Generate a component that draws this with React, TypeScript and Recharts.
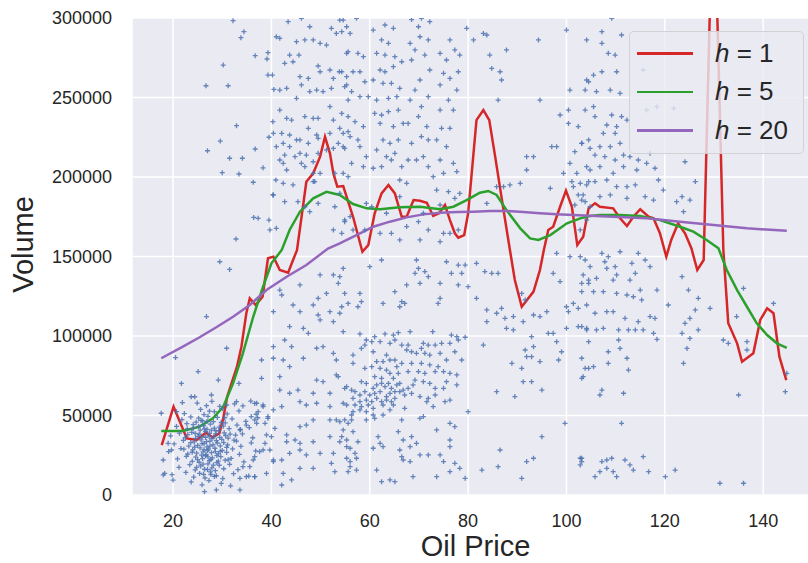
import { CartesianGrid, ComposedChart, Legend, Line, Scatter, XAxis, YAxis } from 'recharts'

const xTicks = [20, 40, 60, 80, 100, 120, 140]
const yTicks = [0, 50000, 100000, 150000, 200000, 250000, 300000]

// kernel regression curves
const redX = [17.7, 20.1, 22.8, 24.8, 26.7, 28.0, 29.4, 30.2, 31.0, 32.1, 33.0, 33.9, 34.9, 35.6, 36.8, 38.2, 39.3, 40.4, 41.7, 43.4, 44.4, 45.2, 47.1, 48.5, 49.9, 50.9, 51.9, 52.6, 53.4, 54.6, 56.6, 58.5, 59.7, 61.0, 62.4, 63.8, 65.1, 66.5, 67.5, 68.9, 70.2, 71.6, 72.9, 74.1, 75.3, 76.3, 77.3, 78.0, 79.2, 80.0, 81.7, 83.1, 84.3, 85.5, 87.2, 88.5, 89.5, 90.9, 93.3, 94.6, 95.4, 96.3, 97.3, 98.7, 99.9, 101.1, 102.2, 103.4, 104.5, 105.8, 106.8, 109.5, 110.9, 112.3, 113.6, 115.0, 116.7, 117.7, 119.0, 120.3, 121.3, 122.7, 124.1, 125.4, 126.6, 127.9, 129.2, 129.9, 130.6, 131.9, 132.9, 134.7, 135.7, 138.0, 139.4, 140.8, 142.1, 143.3, 144.7]
const redY = [31400, 55500, 35600, 34600, 39200, 36300, 38800, 48200, 61800, 72300, 80700, 93300, 114300, 123700, 119500, 124700, 148900, 149900, 141500, 139800, 147800, 154000, 197000, 202300, 212800, 225300, 214900, 202300, 193900, 194300, 175000, 153000, 157200, 177200, 189700, 195000, 189700, 175000, 175000, 185500, 185100, 183800, 175500, 177200, 182400, 172900, 164600, 161800, 163500, 177200, 235800, 242100, 235800, 212800, 179200, 154100, 135200, 118400, 127900, 141500, 154100, 166700, 168700, 181300, 191400, 181300, 157200, 162400, 180300, 183500, 181300, 180300, 174000, 169200, 175000, 179700, 175000, 174000, 164600, 149900, 160400, 170900, 164600, 155200, 141500, 147800, 310000, 330000, 310000, 154100, 108000, 95400, 83800, 89100, 110100, 117400, 114300, 87000, 72300]

const greenX = [17.6, 22.0, 25.4, 28.1, 30.2, 32.2, 34.2, 36.3, 38.3, 40.0, 42.1, 43.7, 45.8, 48.5, 51.2, 53.9, 56.6, 59.4, 62.1, 66.1, 70.2, 74.3, 77.0, 79.7, 82.4, 84.1, 85.8, 87.8, 90.6, 92.6, 94.3, 96.7, 100.1, 102.8, 104.8, 106.8, 110.9, 115.0, 119.0, 123.1, 125.8, 128.5, 130.9, 132.6, 134.7, 136.7, 138.7, 140.8, 142.8, 144.8]
const greenY = [40200, 40200, 43000, 48200, 55500, 70200, 89100, 112100, 131000, 145700, 154100, 166700, 178200, 186600, 190700, 188700, 183000, 180300, 179700, 180900, 181300, 179700, 181300, 185500, 190100, 191200, 188700, 179200, 167700, 161400, 160400, 163500, 170900, 174000, 175500, 176100, 176100, 175500, 172900, 168700, 165600, 160400, 155200, 141500, 128900, 118400, 108000, 100600, 95400, 92600]

const purpleX = [17.6, 22.0, 25.4, 28.8, 32.2, 35.6, 39.0, 43.1, 47.1, 51.5, 53.9, 57.3, 60.7, 64.1, 67.5, 70.9, 74.3, 77.7, 81.1, 84.5, 87.9, 91.2, 94.6, 98.0, 101.4, 104.8, 109.5, 116.3, 123.1, 129.9, 136.7, 144.8]
const purpleY = [86000, 93300, 99200, 105500, 112100, 119500, 128900, 137300, 144600, 155000, 158300, 163500, 168700, 171900, 174600, 176500, 177500, 178000, 178200, 178600, 178600, 178000, 177200, 176500, 176100, 175700, 175000, 174000, 171900, 169800, 167700, 166200]

// scatter of the raw observations (oil price, volume), grouped by area of the plot
const lowPriceCluster: [number, number][] = [
  [24.9, 57800], [26.8, 56200], [27.9, 58900], [29.5, 55700], [32.5, 57300], [34.2, 56000], [35.8, 59100],
  [22.3, 51200], [25.6, 53800], [26.3, 50600], [28.4, 52400], [30.1, 54300], [31.0, 51000], [33.4, 52900], [36.9, 50800],
  [21.8, 47400], [23.6, 49100], [24.7, 45800], [25.2, 48300], [26.0, 46600], [27.1, 49500], [28.2, 46100], [29.0, 48800], [30.6, 45400], [32.0, 47900], [34.8, 46300], [37.2, 48600],
  [20.7, 43100], [22.9, 41600], [24.1, 44200], [25.5, 40800], [26.2, 43700], [26.9, 41300], [27.6, 44600], [28.4, 42000], [29.3, 40500], [30.2, 43300], [31.4, 41800], [33.0, 44000], [35.5, 42400],
  [19.5, 37200], [21.3, 38900], [22.5, 36100], [23.8, 39400], [24.6, 35600], [25.3, 38200], [25.9, 36700], [26.6, 39800], [27.3, 37000], [27.9, 35400], [28.7, 38600], [29.5, 36300], [30.4, 39100], [31.2, 35800], [32.7, 37700], [34.1, 38400], [36.2, 36000],
  [20.2, 32100], [22.1, 34300], [23.2, 30800], [24.3, 33400], [25.0, 31200], [25.7, 34700], [26.3, 32400], [26.9, 30300], [27.5, 33900], [28.1, 31600], [28.8, 34200], [29.6, 30900], [30.3, 33000], [31.1, 31500], [32.4, 34500], [33.8, 30600], [35.9, 32800],
  [19.1, 27300], [21.6, 29200], [23.0, 25800], [24.0, 28400], [24.8, 26300], [25.5, 29600], [26.1, 27100], [26.7, 25400], [27.2, 28800], [27.8, 26600], [28.5, 29400], [29.2, 25900], [30.0, 28000], [30.9, 26800], [32.1, 29000], [33.5, 25600], [36.8, 27700],
  [20.9, 22700], [22.7, 24300], [23.9, 21200], [24.6, 23800], [25.3, 20600], [26.0, 22900], [26.6, 24700], [27.4, 21600], [28.0, 23300], [28.9, 20400], [29.7, 24100], [30.6, 21900], [31.8, 23000], [34.4, 20800],
  [21.2, 17400], [23.4, 19100], [24.5, 15800], [25.6, 18300], [26.4, 16200], [27.1, 19600], [27.9, 17000], [28.6, 15300], [29.4, 18700], [30.3, 16500], [31.5, 19300], [33.2, 15900],
  [19.8, 12800], [22.6, 14200], [24.2, 11300], [25.4, 13600], [26.5, 10700], [27.6, 14600], [28.8, 12100], [30.1, 10300], [32.3, 13400], [35.4, 11900],
  [23.7, 8200], [25.9, 6400], [27.3, 9100], [29.8, 7300], [31.7, 5800],
  [24.4, 30100], [25.1, 36900], [25.8, 25100], [26.4, 41500], [26.8, 33600], [27.0, 27900], [27.4, 38800], [27.7, 22400], [28.3, 36600], [28.6, 27300], [29.0, 32700], [29.4, 42700], [29.9, 35000], [25.2, 43100], [26.1, 19400], [27.5, 30700], [28.2, 18800], [26.9, 46300], [28.9, 24800], [25.9, 32300], [24.5, 38700], [23.6, 33000], [23.9, 26900], [30.7, 37300], [30.9, 30000], [29.2, 21300], [27.8, 40800], [26.3, 28500], [25.0, 22200], [27.0, 16000], [28.4, 11700], [24.8, 17400], [29.8, 45600], [31.6, 38300], [22.8, 44900], [22.2, 28800], [30.5, 48600], [27.4, 52700], [25.7, 46900], [26.6, 36200], [28.7, 40300], [27.1, 24000], [24.1, 41900], [29.6, 27400], [26.2, 13000], [31.2, 22100], [32.9, 33900], [33.7, 41200], [23.0, 38000], [27.7, 12900],
  [17.6, 51400], [19.0, 32500], [19.7, 28300], [18.0, 22000], [18.3, 13600], [18.0, 12600], [20.0, 9400], [20.7, 52400], [23.7, 61800], [24.4, 61800], [27.8, 62900], [21.9, 58100], [30.9, 56600], [32.9, 58700], [36.6, 57600], [38.3, 56600], [35.9, 49300], [37.3, 52400], [39.3, 48200], [40.7, 41900], [40.0, 36700], [38.7, 45100], [37.0, 45100], [35.6, 17800], [36.6, 24100], [37.6, 27300], [38.7, 32500], [39.7, 28300], [40.4, 22000], [34.9, 11500], [36.6, 11500], [33.6, 3200], [28.8, 3200], [26.4, 2100],
]

const upperLeftPts: [number, number][] = [
  [32.2, 298300], [34.4, 291400], [33.8, 287600], [30.2, 270400], [26.7, 257400], [31.2, 257400], [36.7, 276300], [39.3, 278200], [39.1, 274200], [39.3, 264100], [40.2, 264100], [40.5, 255100], [32.9, 232300], [29.6, 222600], [27.0, 216500], [31.5, 211800], [34.1, 211800], [36.7, 217600], [30.0, 202700], [33.4, 201900], [38.3, 205800], [36.3, 196700], [36.4, 174600], [37.3, 174000], [39.5, 172900], [39.7, 166700], [32.8, 161000], [39.5, 225000], [40.3, 234800], [40.3, 188700], [40.9, 198100],
  [41.0, 288200], [41.7, 287200], [43.4, 297700], [45.1, 285100], [46.1, 299800], [46.8, 286200], [47.8, 294500], [48.5, 286200], [49.9, 284100], [51.2, 283000], [52.2, 293500], [53.2, 290300], [53.9, 298700], [54.3, 291400], [55.3, 294500], [55.6, 278800],
  [42.7, 271500], [43.7, 276700], [44.4, 272500], [45.6, 276700], [45.8, 263100], [47.5, 262000], [49.5, 269800], [49.9, 266200], [51.9, 267300], [52.6, 262000], [53.8, 266200], [55.3, 263100],
  [41.7, 254700], [43.1, 255800], [45.1, 249500], [46.1, 257900], [47.8, 253700], [49.2, 254700], [50.5, 253700], [52.2, 255800], [55.3, 257900],
  [41.7, 242100], [43.1, 236900], [44.1, 235800], [46.8, 238000], [47.5, 230600], [48.5, 236900], [49.5, 236900], [51.9, 244200], [52.6, 235800], [53.9, 230600], [55.6, 238000],
  [40.4, 227500], [42.1, 227500], [43.7, 226400], [45.1, 223300], [45.8, 223300], [47.5, 221200], [49.2, 226400], [49.5, 224300], [51.9, 227500], [54.6, 227500], [56.0, 225400],
  [41.0, 219100], [42.4, 221200], [42.7, 213800], [43.7, 219100], [45.8, 214900], [47.1, 213800], [48.5, 209600], [49.5, 214900], [51.2, 217000], [52.6, 218000], [53.6, 221200], [54.9, 218000],
  [41.7, 210700], [42.4, 208600], [43.1, 204400], [44.8, 212800], [46.1, 208600], [46.8, 206500], [48.5, 202300], [48.8, 197100], [49.9, 202300], [52.9, 202300], [54.6, 202300], [55.6, 200200],
  [42.4, 196000], [44.4, 195000], [45.4, 184500], [46.8, 181300], [47.8, 178200], [49.5, 183400], [48.5, 197100], [52.6, 166700], [52.9, 181300], [54.9, 171900], [56.0, 175100], [40.4, 188700], [42.7, 184500], [41.0, 167700],
]

const upperMidPts: [number, number][] = [
  [54.6, 298700], [56.0, 290300], [57.3, 299800], [55.3, 277800], [57.6, 277800], [58.7, 275700], [54.3, 266200], [56.6, 266200], [58.0, 266200], [59.0, 259900], [54.9, 256800], [56.3, 253700], [55.6, 248400], [58.0, 250500], [59.7, 250500], [54.3, 240000], [57.0, 234800], [58.7, 231700], [57.6, 223300], [55.6, 228500], [54.6, 219100], [58.0, 219100], [59.3, 212800], [56.3, 208600], [58.7, 206500], [60.7, 205500],
  [60.7, 292400], [63.1, 295600], [64.8, 293500], [62.4, 286200], [63.8, 284100], [61.4, 277800], [63.1, 276700], [65.1, 275700], [62.1, 267300], [63.1, 266200], [64.8, 269400], [66.5, 272500], [60.7, 261000], [62.7, 258900], [64.4, 258900], [66.1, 255800], [61.4, 248400], [63.8, 249500], [65.5, 250500], [61.0, 240000], [62.4, 239000], [63.8, 241100], [65.8, 242100], [62.1, 233700], [64.8, 231700], [66.8, 233700], [62.7, 223300], [64.1, 221200], [65.8, 223300], [61.4, 217000], [63.4, 212800], [65.1, 214900], [62.4, 206500], [64.4, 210700], [66.5, 206500], [66.1, 198100], [67.5, 196000],
  [68.5, 299000], [70.5, 299800], [69.9, 294500], [72.2, 297700], [68.2, 284100], [70.2, 288200], [71.9, 286200], [69.2, 279900], [71.2, 276700], [68.5, 273600], [72.2, 267300], [70.2, 261000], [69.2, 254700], [71.9, 250500], [68.2, 248400], [70.5, 244200], [69.9, 238000], [67.8, 233700], [71.6, 231700], [70.5, 225400], [68.5, 221200], [71.9, 223300], [69.5, 210700], [67.8, 210700], [70.9, 212800], [71.9, 206500], [72.9, 200200],
  [74.3, 277800], [76.3, 286200], [77.3, 279900], [75.6, 273600], [75.0, 265200], [78.0, 266200], [76.3, 262000], [74.3, 257900], [77.7, 254700], [76.0, 248400], [74.3, 242100], [77.0, 242100], [74.6, 230600], [76.3, 230600], [73.6, 223300], [75.6, 219100], [74.3, 210700], [77.0, 208600], [77.7, 203400], [75.0, 202300], [73.6, 191800],
  [78.3, 276700], [79.7, 293500], [81.1, 286200], [83.1, 290300], [83.8, 289300], [84.4, 276700], [84.8, 268300], [86.5, 266200], [86.8, 261000], [87.8, 279900], [86.1, 248400], [94.6, 248400], [94.3, 286200],
  [100.0, 292400], [100.7, 254700], [100.4, 242100], [100.4, 233700], [98.7, 239000], [102.4, 231700], [104.5, 259900], [103.1, 221200], [101.7, 215900], [104.5, 223300], [100.7, 208600], [102.1, 202300], [99.4, 202300], [104.1, 206500], [102.8, 196000], [101.1, 197100], [96.7, 192900], [91.9, 204400], [93.3, 212800], [91.9, 212800], [97.0, 219100], [98.0, 219100], [87.2, 193900], [88.5, 195000], [90.6, 196000],
  [74.3, 182400], [76.0, 190800], [77.3, 186600], [78.3, 189700], [75.0, 164600], [74.3, 159300], [76.3, 164600], [78.0, 166700], [83.8, 183400], [85.8, 193900], [104.1, 286200], [101.4, 193900], [104.5, 197100], [102.4, 188700], [103.4, 188700], [101.7, 182400], [103.8, 184500], [104.1, 173000], [102.8, 166700],
  [53.9, 189700], [54.9, 173000], [54.3, 164600], [56.6, 166700], [59.0, 166700], [59.3, 183400], [60.4, 181300], [66.1, 187600], [67.5, 168800], [69.9, 171900], [70.2, 160400], [71.9, 166700], [70.9, 177200], [66.1, 160400], [63.4, 177200], [64.4, 164600], [62.1, 164600],
]

const upperRightPts: [number, number][] = [
  [109.2, 299800], [107.2, 291400], [107.2, 284100], [111.2, 289300], [108.5, 277800], [109.9, 276700], [107.2, 266200], [110.2, 266200], [104.1, 261000], [105.5, 264100], [103.8, 254700], [106.1, 253700], [108.9, 254700], [110.9, 252600], [105.5, 244200], [103.8, 242100], [105.8, 238000], [109.2, 239000], [111.2, 238000], [108.2, 232700], [110.2, 231700], [112.3, 235800], [107.5, 227500], [109.9, 227500],
  [103.1, 221200], [104.8, 218000], [106.8, 219100], [108.9, 219100], [110.9, 221200], [105.8, 213800], [107.8, 212800], [109.9, 210700], [112.9, 212800], [114.6, 210700], [116.3, 208600], [118.0, 205500], [106.8, 206500], [104.8, 204400], [109.5, 202300], [111.6, 206500], [114.3, 204400],
  [104.1, 195000], [105.8, 197100], [108.2, 198100], [110.2, 193900], [112.3, 193900], [114.0, 195000], [116.0, 187600], [117.7, 185500], [118.7, 198100], [119.7, 191800], [122.4, 184500], [123.5, 187600], [125.1, 185500], [106.8, 187600], [108.9, 188700], [112.3, 186600], [124.1, 209600], [126.2, 197100], [123.8, 178200],
  [115.6, 267300], [116.3, 242100], [118.4, 244200], [121.8, 243200], [111.6, 213800], [117.0, 214900], [103.1, 185500], [104.8, 181300],
]

const lowerLeftPts: [number, number][] = [
  [29.5, 146700], [31.5, 141900], [26.8, 112200], [20.5, 86400], [25.1, 77600], [30.9, 92300], [29.2, 72300], [21.7, 70200], [33.4, 70200], [38.0, 84900], [38.0, 73400], [41.7, 74400],
  [40.4, 115300], [41.7, 128900], [42.1, 125800], [45.8, 132100], [44.4, 119500], [45.8, 115300], [43.7, 105900], [46.5, 104800], [47.5, 101700], [49.9, 138400], [51.2, 126800], [52.6, 138400], [53.9, 137300], [53.6, 133100], [49.5, 123700], [48.5, 119500], [49.5, 113200], [49.9, 110100], [51.9, 115300], [53.9, 114300], [52.6, 109000], [55.6, 120500],
  [42.7, 97500], [44.1, 93300], [40.4, 93300], [40.4, 86000], [42.4, 84900], [46.5, 86000], [49.2, 92300], [50.5, 93300], [52.6, 89100], [53.2, 84900], [53.2, 75500], [53.6, 74400], [49.2, 72300], [50.5, 71300], [55.3, 68100], [43.7, 80700],
  [41.7, 66000], [43.7, 64000], [45.4, 66000], [48.5, 64000], [51.9, 64000], [45.8, 58700], [47.1, 56600], [49.2, 57700], [51.9, 55600], [54.6, 57700], [53.2, 47200], [51.9, 47200], [55.6, 45100], [48.5, 47200], [47.1, 44000], [45.8, 43000], [43.1, 37800], [40.4, 53500], [42.1, 55600], [39.3, 49300], [37.0, 57700], [38.3, 55600], [36.6, 47200], [34.9, 44000], [33.6, 40900], [39.0, 37800],
  [43.1, 33500], [45.8, 32500], [44.8, 34600], [48.5, 33500], [51.9, 36700], [53.9, 33500], [55.3, 30400], [52.6, 26200], [49.9, 26200], [47.1, 25200], [45.8, 28300], [43.7, 26200], [42.1, 22000], [40.4, 21000], [38.3, 28300], [36.3, 22000], [34.2, 17800], [33.6, 10500], [36.6, 11500], [39.0, 13600], [42.4, 13600], [44.1, 9500], [45.8, 16800], [48.5, 16800], [52.2, 19900], [52.9, 14700], [56.0, 17800], [42.1, 6300],
]

const lowerMidPts: [number, number][] = [
  [54.6, 142500], [54.3, 118400], [54.9, 126800], [57.6, 118400], [58.0, 126800], [58.3, 121600], [60.0, 143600], [62.4, 147800], [62.7, 120500], [65.1, 127900], [66.5, 121600], [66.1, 118400], [67.5, 132100], [67.1, 120500], [69.5, 147800], [69.9, 142500], [69.2, 139400], [71.2, 140500], [71.9, 137300], [70.2, 133100], [74.3, 133100], [73.9, 120500], [74.3, 123700], [75.6, 146700], [76.6, 139400], [78.0, 144600], [78.0, 132100], [78.7, 139400], [79.4, 144600], [80.0, 131000], [81.7, 145700], [83.4, 140500], [84.8, 139400], [86.1, 139400], [81.7, 123700], [83.8, 116400], [85.8, 114300], [86.8, 117400], [87.5, 111100], [89.2, 112200], [87.8, 104800], [89.2, 103800], [91.2, 109000], [90.9, 126800], [91.6, 122700], [83.8, 109000],
  [54.6, 102700], [58.0, 101300], [59.3, 97500], [61.0, 99600], [63.1, 101300], [64.8, 100600], [65.8, 102100], [68.2, 102700], [72.8, 102700], [76.6, 100600], [77.7, 99600], [79.4, 99200], [83.1, 94300], [59.0, 94300], [60.4, 96400], [62.1, 96400], [64.1, 95400], [65.1, 97500], [66.5, 94300], [67.8, 94300], [70.9, 95400], [71.9, 94300], [73.3, 94300], [74.6, 95400], [76.3, 95400], [78.0, 97500],
  [56.6, 88000], [56.6, 82800], [58.3, 92200], [60.7, 90100], [63.4, 88000], [61.4, 83900], [62.7, 83900], [64.1, 84900], [65.1, 84900], [67.5, 91200], [68.5, 90100], [69.5, 89100], [70.5, 92200], [71.2, 89100], [72.2, 88000], [74.3, 89100], [75.6, 84900], [77.3, 90100], [78.7, 84900], [68.5, 82800], [70.5, 82800], [72.2, 81800], [73.9, 80700],
  [59.0, 79700], [60.4, 80700], [62.1, 79700], [65.5, 80700], [66.5, 82800], [63.4, 78600], [64.1, 76500], [65.8, 76500], [67.8, 77600], [69.9, 77600], [71.2, 76500], [73.3, 77600], [75.0, 77600], [76.3, 76500], [77.7, 75500], [61.0, 74400], [62.4, 73400], [64.8, 73400], [69.2, 72300], [70.9, 71300], [72.2, 70200],
  [54.9, 67100], [56.3, 66000], [58.3, 71300], [59.3, 70200], [60.7, 67100], [61.4, 69200], [62.4, 70200], [63.1, 68100], [63.8, 70200], [64.4, 67100], [65.5, 69200], [66.1, 70200], [66.8, 66000], [67.8, 67100], [68.5, 63900], [68.8, 69200], [67.1, 62900], [66.1, 65000], [65.1, 65000], [64.1, 63900], [63.4, 61900], [62.1, 65000], [61.0, 63900], [60.0, 62900], [59.0, 65000], [58.0, 62900], [57.0, 65000],
  [56.6, 60800], [58.0, 58700], [59.3, 59700], [60.4, 58700], [61.4, 60800], [62.4, 58700], [63.4, 59700], [64.4, 58700], [65.1, 60800], [55.3, 56600], [57.0, 56600], [58.3, 55600], [59.7, 56600], [60.7, 54500], [62.7, 56600], [64.8, 56600], [56.6, 52400], [58.0, 53500], [59.3, 52400], [60.7, 50300], [56.3, 50300], [54.9, 47200], [56.3, 47200], [59.3, 47200], [61.0, 48200], [62.7, 50300], [64.1, 53500], [67.1, 54500],
  [70.2, 61900], [71.9, 60800], [71.6, 58700], [73.3, 62900], [73.3, 67100], [75.0, 67100], [75.6, 71300], [77.7, 69200], [76.3, 59700], [75.3, 58700], [72.9, 55600], [70.9, 49300], [80.0, 52400], [70.2, 48200], [66.5, 47200],
  [53.9, 46100], [54.6, 40900], [54.3, 36700], [55.3, 34600], [56.6, 39800], [57.6, 33500], [56.0, 29400], [57.0, 26200], [60.7, 29400], [62.1, 32500], [62.7, 30400], [61.7, 36700], [65.8, 39800], [66.8, 34600], [68.5, 36700], [68.2, 30400], [69.5, 32500], [70.2, 25200], [71.9, 25200], [66.1, 28300], [73.6, 40900], [76.3, 45100], [77.3, 43000], [76.3, 34600], [76.3, 30400], [74.3, 25200], [66.5, 24100], [57.3, 23100], [55.3, 23100],
  [57.3, 15700], [55.6, 14700], [61.4, 15700], [62.4, 8400], [64.1, 9500], [65.1, 8400], [68.8, 11500], [73.6, 11500], [77.3, 19900], [78.3, 16800], [79.4, 10500], [76.3, 14700], [56.0, 21000], [68.2, 21000], [66.8, 22000], [75.0, 21000],
]

const lowerRightPts: [number, number][] = [
  [93.3, 113200], [94.6, 112200], [96.0, 115300], [92.9, 99600], [93.3, 93300], [91.6, 91200], [91.9, 87000], [94.6, 83900], [92.9, 87000], [96.3, 101700], [97.3, 101700], [98.0, 96400], [98.4, 84900], [99.0, 90100], [90.9, 79700], [91.2, 71300], [92.9, 71300], [95.0, 66000], [85.8, 65000], [89.5, 61900], [88.9, 82800],
  [100.0, 104800], [100.0, 118400], [100.4, 115300], [101.4, 120500], [102.4, 105900], [102.4, 117400], [103.1, 86000], [103.4, 74400], [104.1, 103800], [104.5, 79700], [104.5, 96400], [102.8, 23100], [103.1, 21000], [102.8, 18900], [99.7, 45100], [95.0, 36700], [93.3, 23100], [91.9, 21000], [90.9, 10500], [86.5, 28300], [86.1, 17800], [82.8, 15700], [102.8, 149900], [104.5, 135200], [103.1, 133100], [98.0, 152000], [98.7, 134200], [97.3, 139400], [100.7, 149900],
  [103.8, 147800], [107.2, 152000], [108.5, 149900], [110.9, 153000], [103.4, 138400], [104.8, 143600], [106.1, 136300], [107.8, 146700], [108.2, 142500], [109.9, 143600], [110.2, 138400], [113.3, 145700], [114.6, 152000], [116.0, 147800], [117.0, 143600], [114.0, 139400], [109.5, 135200], [112.9, 135200], [115.0, 128900], [118.4, 128900],
  [103.1, 127900], [104.5, 133100], [105.5, 127900], [107.5, 127900], [110.2, 126800], [112.3, 125800], [113.6, 124700], [115.3, 122700], [104.1, 119500], [105.8, 114300], [108.2, 115300], [109.5, 115300], [111.9, 111100], [114.6, 109000], [117.0, 112200], [118.0, 111100],
  [103.1, 105900], [104.1, 104800], [106.1, 103800], [107.5, 104800], [110.6, 103800], [112.6, 103800], [114.0, 103800], [115.6, 103800], [117.7, 101700], [118.4, 97900], [110.6, 97500], [110.9, 92200], [108.5, 90100], [108.5, 82800], [112.3, 86000], [112.6, 78600], [103.8, 79700], [105.5, 80700], [103.1, 73400], [107.2, 66000], [106.8, 62900], [111.6, 64000], [111.2, 45100],
  [103.1, 23100], [107.2, 21000], [108.2, 22000], [109.2, 23100], [111.9, 22000], [112.9, 18900], [115.6, 24100], [105.8, 11500], [106.8, 14700], [108.2, 16800], [109.5, 14700], [110.2, 11500], [113.6, 15700], [116.7, 14700], [120.1, 11500], [122.1, 15700],
  [120.7, 119500], [123.5, 137300], [124.8, 128900], [126.8, 123700], [126.2, 116400], [125.1, 111100], [124.1, 108000], [126.8, 103800], [123.5, 101700], [125.1, 98500], [124.5, 92200], [123.8, 82800], [129.2, 117400], [134.6, 112200], [131.9, 97500], [132.9, 95400], [136.0, 130000], [136.7, 96400], [136.7, 91200], [142.1, 120500], [135.0, 62900], [144.8, 76500], [144.5, 65000], [131.2, 7400], [136.0, 7400],
]

const legendItems = [
  { h: '1', color: '#d62728' },
  { h: '5', color: '#2ca02c' },
  { h: '20', color: '#9467bd' },
]

const zip = (xs: number[], ys: number[]) => xs.map((x, i) => ({ x, y: ys[i] }))

const scatterData = [
  ...lowPriceCluster,
  ...upperLeftPts,
  ...upperMidPts,
  ...upperRightPts,
  ...lowerLeftPts,
  ...lowerMidPts,
  ...lowerRightPts,
].map(([x, y]) => ({ x, y }))

const redData = zip(redX, redY)
const greenData = zip(greenX, greenY)
const purpleData = zip(purpleX, purpleY)

const FONT = '"Liberation Sans", Arial, sans-serif'
const INK = '#262626'

const Plus = (props: any) => {
  const { cx, cy } = props
  if (cx == null || cy == null) return null
  return (
    <path
      d={`M${cx - 2.5},${cy}H${cx + 2.5}M${cx},${cy - 2.5}V${cy + 2.5}`}
      stroke="#4c72b0"
      strokeWidth={1.3}
      strokeOpacity={0.85}
    />
  )
}

const XTitle = (props: any) => {
  const vb = props.viewBox
  return (
    <text x={vb.x + vb.width / 2} y={vb.y + 61} textAnchor="middle" fontSize={29} fill={INK} fontFamily={FONT}>
      Oil Price
    </text>
  )
}

const YTitle = (props: any) => {
  const vb = props.viewBox
  const x = vb.x + 33
  const y = vb.y + vb.height / 2 - 12
  return (
    <text x={x} y={y} transform={`rotate(-90, ${x}, ${y})`} textAnchor="middle" fontSize={29} fill={INK} fontFamily={FONT}>
      Volume
    </text>
  )
}

const renderLegend = () => (
  <div
    style={{
      width: 175,
      height: 123,
      boxSizing: 'border-box',
      background: 'rgba(234,234,242,0.8)',
      border: '1px solid rgba(204,204,204,0.8)',
      borderRadius: 5,
      paddingTop: 2,
      fontFamily: FONT,
    }}
  >
    {legendItems.map((item) => (
      <div key={item.h} style={{ height: 38.5, display: 'flex', alignItems: 'center' }}>
        <div style={{ width: 56, height: 2.5, marginLeft: 7, background: item.color }} />
        <span style={{ marginLeft: 22, fontSize: 26, color: INK, whiteSpace: 'nowrap' }}>
          <i>h</i> = {item.h}
        </span>
      </div>
    ))}
  </div>
)

export default function App() {
  return (
    <div style={{ position: 'absolute', left: 0, top: 0, width: 808, height: 563, overflow: 'hidden', background: '#fff' }}>
      <ComposedChart width={830} height={563} margin={{ top: 18, right: 11, bottom: 0, left: 0 }}>
        <CartesianGrid fill="#eaeaf2" stroke="#ffffff" strokeWidth={1.5} />
        <XAxis
          type="number"
          dataKey="x"
          domain={[11.65, 151.35]}
          ticks={xTicks}
          interval={0}
          allowDataOverflow
          axisLine={false}
          tickLine={false}
          tickSize={0}
          tickMargin={19}
          height={68}
          tick={{ fontSize: 18, fill: INK, fontFamily: FONT }}
          label={<XTitle />}
        />
        <YAxis
          type="number"
          dataKey="y"
          domain={[0, 300000]}
          ticks={yTicks}
          interval={0}
          allowDataOverflow
          axisLine={false}
          tickLine={false}
          tickSize={0}
          tickMargin={20}
          width={132}
          tick={{ fontSize: 18, fill: INK, fontFamily: FONT }}
          label={<YTitle />}
        />
        <Scatter data={scatterData} dataKey="y" shape={Plus} isAnimationActive={false} />
        <Line data={redData} dataKey="y" type="linear" stroke="#d62728" strokeWidth={2.5} dot={false} isAnimationActive={false} />
        <Line data={greenData} dataKey="y" type="linear" stroke="#2ca02c" strokeWidth={2.5} dot={false} isAnimationActive={false} />
        <Line data={purpleData} dataKey="y" type="linear" stroke="#9467bd" strokeWidth={2.5} dot={false} isAnimationActive={false} />
        <Legend
          layout="horizontal"
          verticalAlign="middle"
          align="center"
          content={renderLegend}
          wrapperStyle={{ left: 629, top: 31, width: 175, height: 123, zIndex: 5 }}
        />
      </ComposedChart>
    </div>
  )
}
